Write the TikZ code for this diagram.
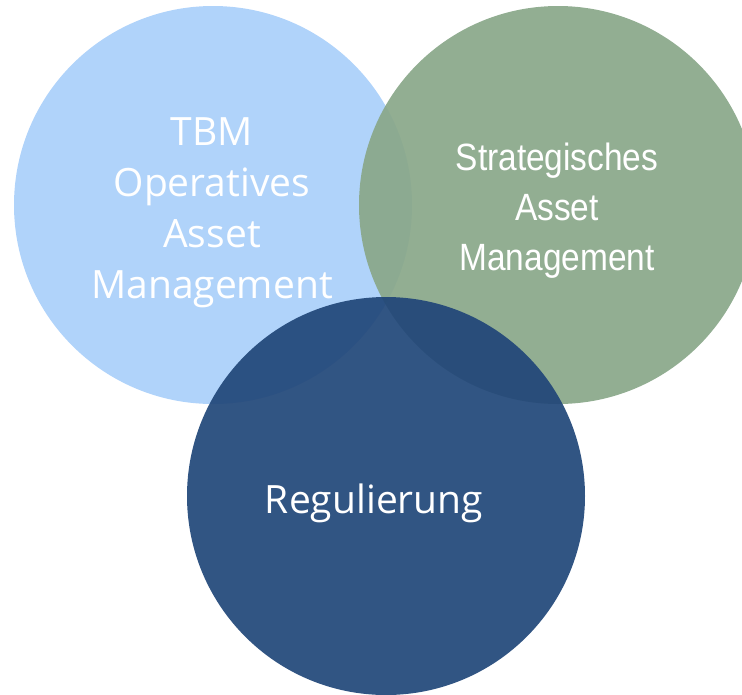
\documentclass[tikz,border=0pt]{standalone}
\usepackage{fontspec}
\newfontfamily\segfont{Open Sans}
\newfontfamily\narrowfont{Liberation Sans}[FakeStretch=0.88]
\definecolor{lightblue}{RGB}{176,211,250}
\definecolor{sage}{RGB}{137,167,137}
\definecolor{navy}{RGB}{32,70,120}
\tikzset{
  venn/.style={circle, inner sep=0pt, minimum size=398pt},
  vtext/.style={text=white, align=center, inner sep=0pt, anchor=base},
}
\begin{document}
\begin{tikzpicture}[x=1pt,y=-1pt]
\useasboundingbox (0,0) rectangle (742,694);
\clip (0,0) rectangle (742,694);
\node[venn, fill=lightblue] (left) at (213,205) {};
\node[venn, fill=sage, fill opacity=0.92] (right) at (558,205) {};
\node[venn, fill=navy, fill opacity=0.92] (bottom) at (386,496) {};
\node[vtext, font=\segfont\fontsize{39}{51}\selectfont] (tl1) at (212,145) {TBM};
\node[vtext, font=\segfont\fontsize{39}{51}\selectfont] (tl2) at (212,196) {Operatives};
\node[vtext, font=\segfont\fontsize{39}{51}\selectfont] (tl3) at (212,247) {Asset};
\node[vtext, font=\segfont\fontsize{39}{51}\selectfont] (tl4) at (212,298) {Management};
\node[vtext, font=\narrowfont\fontsize{38}{50}\selectfont] (tr1) at (557,170) {Strategisches};
\node[vtext, font=\narrowfont\fontsize{38}{50}\selectfont] (tr2) at (557,220) {Asset};
\node[vtext, font=\narrowfont\fontsize{38}{50}\selectfont] (tr3) at (557,270) {Management};
\node[vtext, font=\segfont\fontsize{39}{51}\selectfont] (tb) at (374,513) {Regulierung};
\end{tikzpicture}
\end{document}
